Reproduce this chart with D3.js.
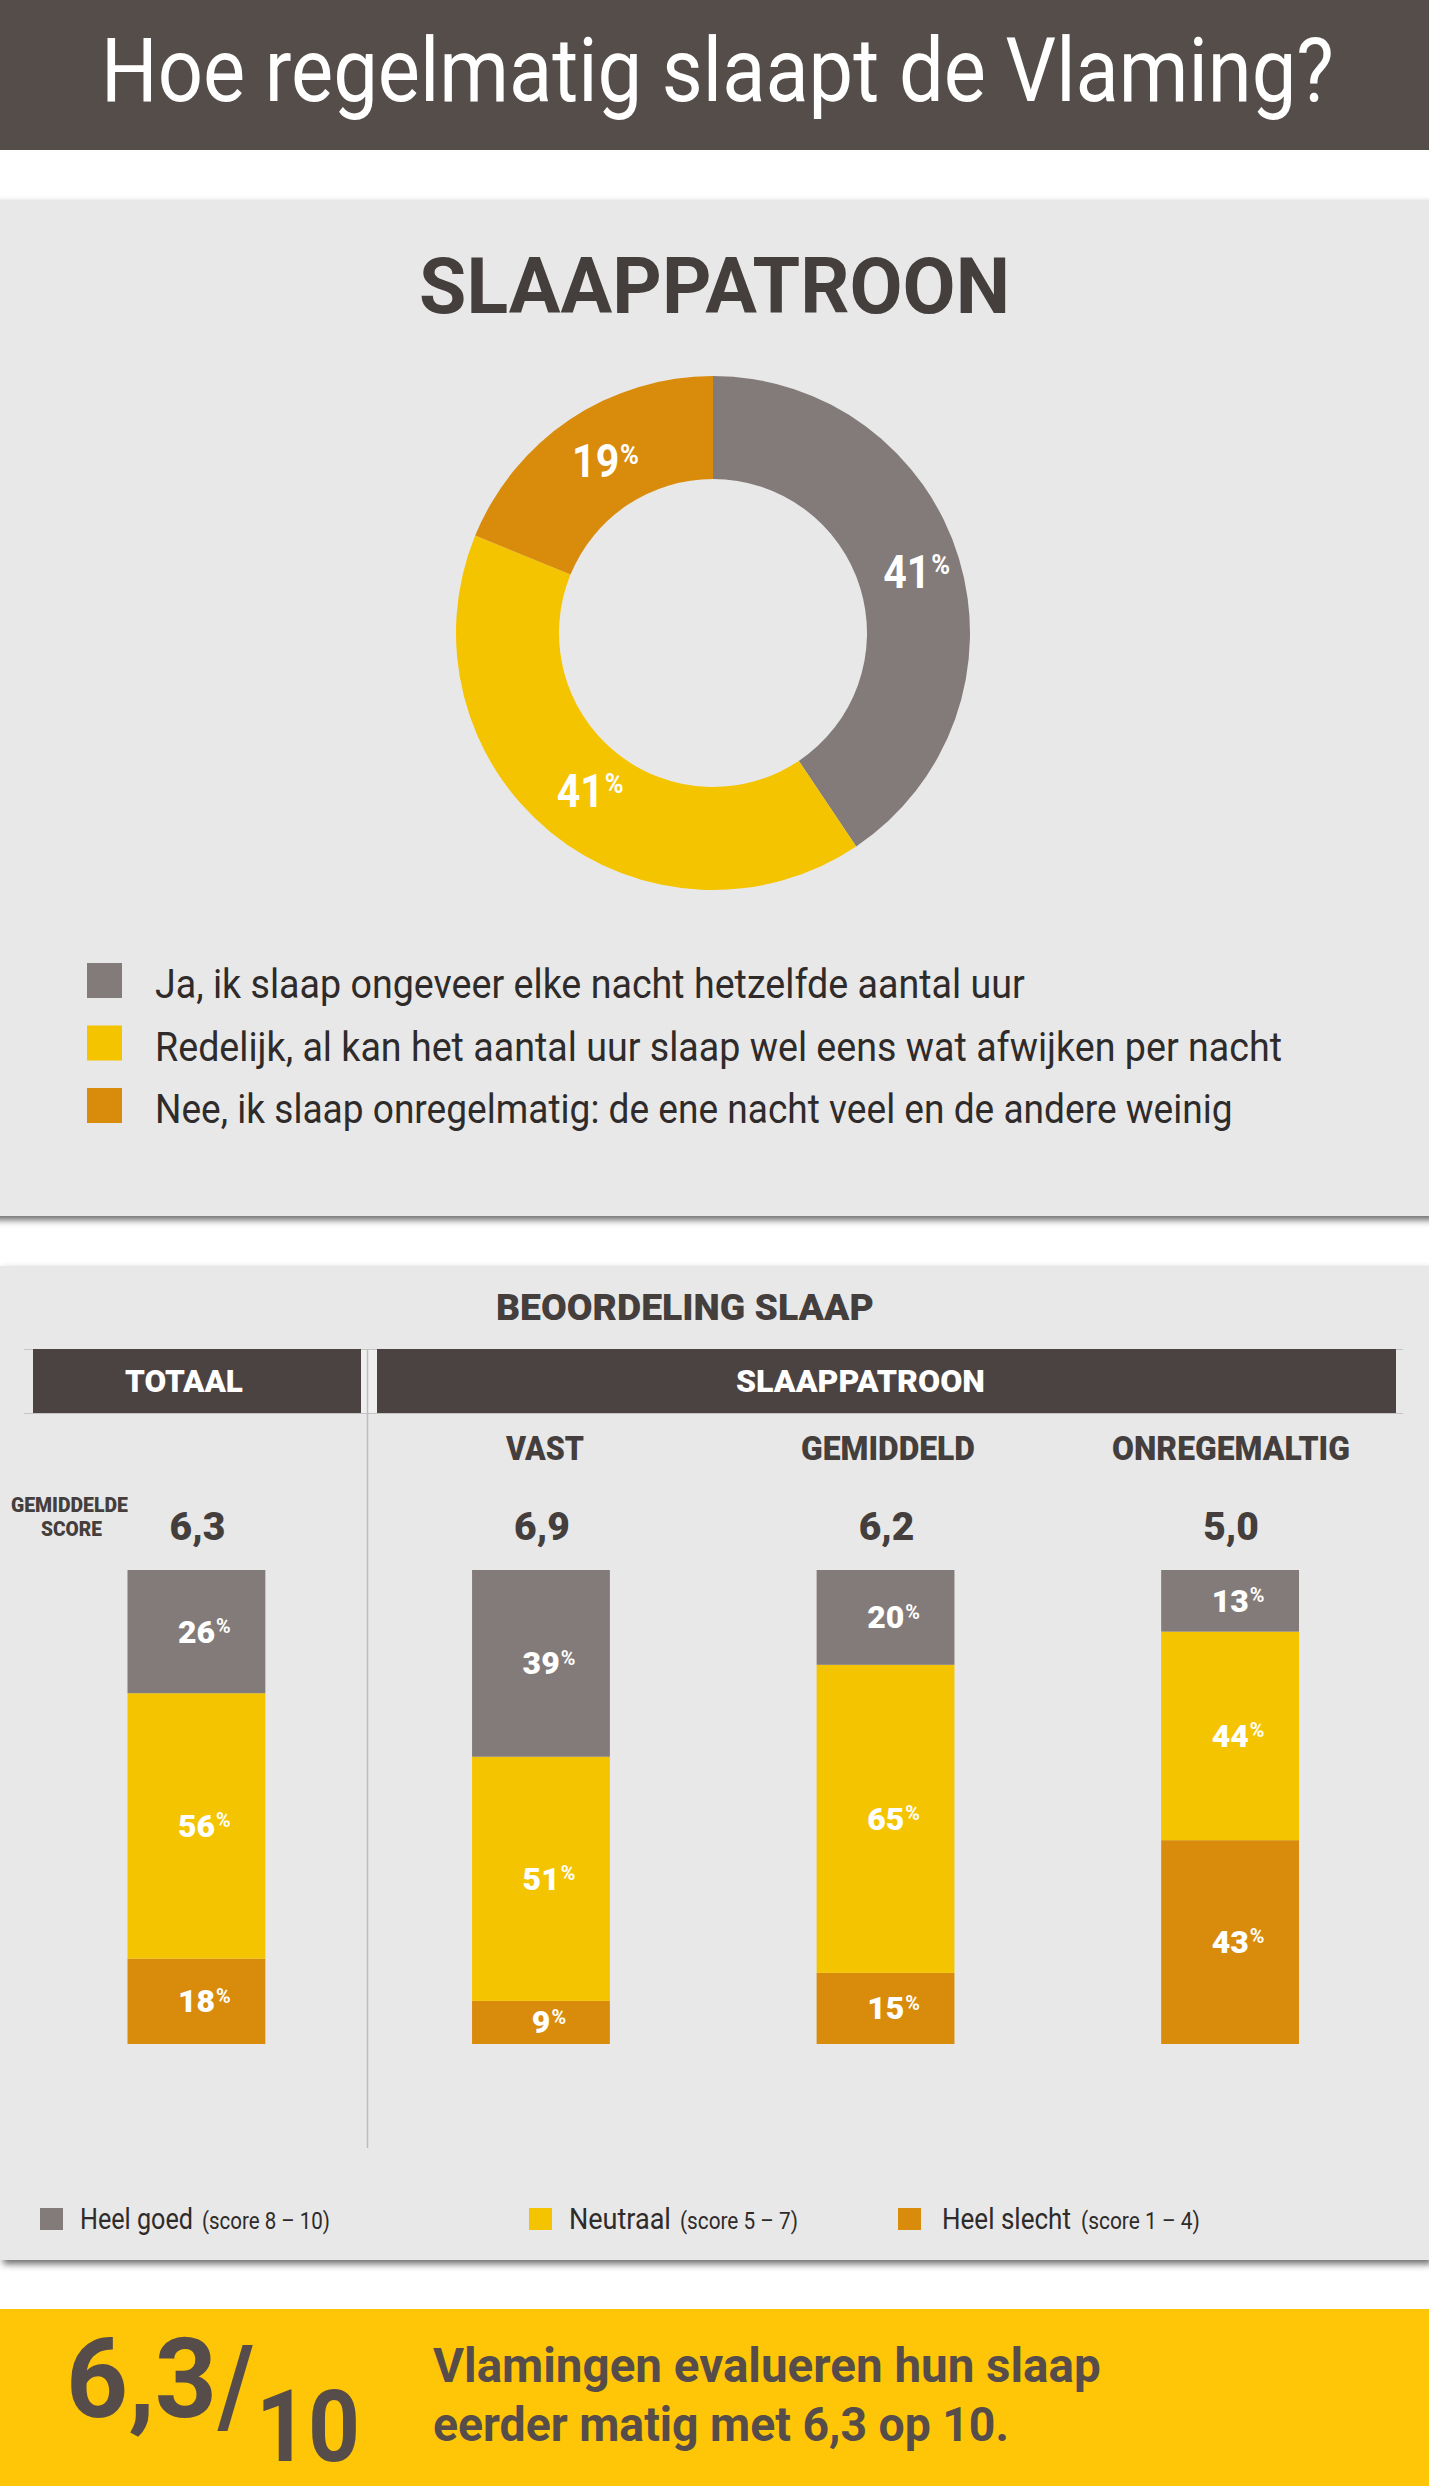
<!DOCTYPE html>
<html>
<head>
<meta charset="utf-8">
<title>Hoe regelmatig slaapt de Vlaming?</title>
<script src="https://cdn.jsdelivr.net/npm/d3@7"></script>
<style>
    html, body { margin: 0; padding: 0; background: #fff; }
    svg { display: block; }
    text { font-family: Roboto, "Open Sans", sans-serif; }
</style>
</head>
<body>
<svg id="chart"></svg>
<script>
// donut
var patternLabels = [
    'Ja, ik slaap ongeveer elke nacht hetzelfde aantal uur',
    'Redelijk, al kan het aantal uur slaap wel eens wat afwijken per nacht',
    'Nee, ik slaap onregelmatig: de ene nacht veel en de andere weinig'
];
var patternValues = [41, 41, 19];

// stacked bars
var groups = ['TOTAAL', 'VAST', 'GEMIDDELD', 'ONREGEMALTIG'];
var scores = ['6,3', '6,9', '6,2', '5,0'];
var heelGoed = [26, 39, 20, 13];
var neutraal = [56, 51, 65, 44];
var heelSlecht = [18, 9, 15, 43];

var scoreKeys = ['heelSlecht', 'neutraal', 'heelGoed'];

var GREY = '#837b79', YELLOW = '#f5c400', ORANGE = '#d98b0b';
var DARK = '#443e3d';

var svg = d3.select('#chart').attr('width', 1429).attr('height', 2486);

var defs = svg.append('defs');
defs.append('filter')
    .attr('id', 'panelShadow')
    .attr('x', '-2%').attr('y', '-2%').attr('width', '104%').attr('height', '104%')
    .append('feDropShadow')
    .attr('dx', 3).attr('dy', 4).attr('stdDeviation', 3.5)
    .attr('flood-color', '#444').attr('flood-opacity', 0.8);

// squeeze text to the width it has in the picture (the original face is condensed)
function squeeze(t, x, y, width) {
    var sx = width ? width / t.node().getComputedTextLength() : 1;
    t.attr('transform', 'translate(' + x + ',' + y + ') scale(' + sx + ',1)');
}

function addText(parent, str, x, y, size, weight, color, width) {
    var t = parent.append('text')
        .attr('font-size', size)
        .attr('font-weight', weight)
        .attr('fill', color)
        .text(str);
    squeeze(t, x, y, width);
    return t;
}

function addPercent(parent, value, x, y, size, weight, width) {
    var t = parent.append('text')
        .attr('text-anchor', 'middle')
        .attr('font-size', size)
        .attr('font-weight', weight)
        .attr('fill', '#fff');
    t.append('tspan').text(value);
    t.append('tspan')
        .attr('font-size', size * 0.62)
        .attr('font-weight', 700)
        .attr('dy', -size * 0.3)
        .attr('dx', 1)
        .text('%');
    squeeze(t, x, y, width);
}

function drawBackground() {
    svg.append('rect').attr('width', 1429).attr('height', 150).attr('fill', '#554d4a');

    svg.append('rect').attr('x', -10).attr('y', 200).attr('width', 1449).attr('height', 1016)
        .attr('fill', '#e8e8e8').attr('filter', 'url(#panelShadow)');
    svg.append('rect').attr('x', 0).attr('y', 1266).attr('width', 1429).attr('height', 994)
        .attr('fill', '#e8e8e8').attr('filter', 'url(#panelShadow)');

    svg.append('rect').attr('y', 2309).attr('width', 1429).attr('height', 177).attr('fill', '#ffc507');

    addText(svg, 'Hoe regelmatig slaapt de Vlaming?', 101, 101, 89, 400, '#fff', 1233);
}

function drawDonut() {
    var colors = d3.scaleOrdinal().domain(patternLabels).range([GREY, YELLOW, ORANGE]);
    var g = svg.append('g').attr('transform', 'translate(713,633)');

    var pie = d3.pie().sort(null).value(function (d) { return d.value; });
    var arc = d3.arc().innerRadius(154).outerRadius(257);
    var rows = patternLabels.map(function (label, i) {
        return {label: label, value: patternValues[i]};
    });

    addText(svg, 'SLAAPPATROON', 419, 313, 78, 700, DARK, 591);

    g.selectAll('path')
        .data(pie(rows))
        .enter()
        .append('path')
        .attr('d', arc)
        .attr('fill', function (d) { return colors(d.data.label); });

    pie(rows).forEach(function (d) {
        var c = arc.centroid(d);
        addPercent(g, d.data.value, c[0] + 7, c[1] + 15, 46, 700, 66);
    });

    // legend
    var legendY = d3.scalePoint().domain(patternLabels).range([998, 1123]);
    var legendWidths = [870, 1127, 1078];
    patternLabels.forEach(function (label, i) {
        svg.append('rect')
            .attr('x', 87).attr('y', legendY(label) - 35)
            .attr('width', 35).attr('height', 35)
            .attr('fill', colors(label));
        addText(svg, label, 155, legendY(label), 41, 400, '#2f2b2a', legendWidths[i]);
    });
}

function drawBars() {
    var rows = groups.map(function (group, i) {
        return {
            group: group,
            score: scores[i],
            heelGoed: heelGoed[i],
            neutraal: neutraal[i],
            heelSlecht: heelSlecht[i]
        };
    });

    var x = d3.scaleBand().domain(groups).range([127.5, 1299]).paddingInner(0.6);
    var y = d3.scaleLinear().domain([0, 1]).range([2044, 1570]);
    var colors = d3.scaleOrdinal().domain(scoreKeys).range([ORANGE, YELLOW, GREY]);

    var series = d3.stack().keys(scoreKeys).offset(d3.stackOffsetExpand)(rows);

    addText(svg, 'BEOORDELING SLAAP', 496, 1320, 37, 900, DARK, 378);

    // header strips and rules
    svg.append('g').selectAll('line')
        .data([1349.5, 1413.5])
        .enter()
        .append('line')
        .attr('x1', 24).attr('x2', 1403)
        .attr('y1', function (d) { return d; })
        .attr('y2', function (d) { return d; })
        .attr('stroke', '#c4c4c4');
    svg.append('rect').attr('x', 361).attr('y', 1350).attr('width', 16).attr('height', 63).attr('fill', '#efefef');
    svg.append('line')
        .attr('x1', 367.5).attr('x2', 367.5).attr('y1', 1349).attr('y2', 2148)
        .attr('stroke', '#bdbdbd').attr('stroke-width', 1.5);
    svg.append('rect').attr('x', 33).attr('y', 1349).attr('width', 328).attr('height', 64).attr('fill', '#4b4341');
    svg.append('rect').attr('x', 377).attr('y', 1349).attr('width', 1019).attr('height', 64).attr('fill', '#4b4341');

    addText(svg, 'TOTAAL', 125, 1392, 32, 900, '#fff', 118);
    addText(svg, 'SLAAPPATROON', 736, 1392, 32, 900, '#fff', 249);

    addText(svg, 'VAST', 506, 1460, 34, 900, DARK, 78);
    addText(svg, 'GEMIDDELD', 801, 1460, 34, 900, DARK, 174);
    addText(svg, 'ONREGEMALTIG', 1112, 1460, 34, 900, DARK, 238);

    addText(svg, 'GEMIDDELDE', 11, 1512, 21, 900, DARK, 117);
    addText(svg, 'SCORE', 41, 1536, 21, 900, DARK, 61);

    var bars = svg.append('g').attr('class', 'bars');
    series.forEach(function (s) {
        bars.append('g')
            .attr('fill', colors(s.key))
            .selectAll('rect')
            .data(s)
            .enter()
            .append('rect')
            .attr('x', function (d) { return x(d.data.group); })
            .attr('y', function (d) { return y(d[1]); })
            .attr('width', x.bandwidth())
            .attr('height', function (d) { return y(d[0]) - y(d[1]); });
    });

    series.forEach(function (s) {
        s.forEach(function (d) {
            var cx = x(d.data.group) + x.bandwidth() / 2;
            addPercent(svg, d.data[s.key], cx + 8, (y(d[0]) + y(d[1])) / 2 + 11, 32, 900);
        });
    });

    rows.forEach(function (d) {
        addText(svg, d.score, x(d.group) + x.bandwidth() / 2 + 1, 1540, 39, 900, DARK)
            .attr('text-anchor', 'middle');
    });

    // legend
    var legend = [
        {key: 'heelGoed', name: 'Heel goed', range: '(score 8 – 10)', sq: 40, tx: 80, tw: 113, rx: 202, rw: 128},
        {key: 'neutraal', name: 'Neutraal', range: '(score 5 – 7)', sq: 529, tx: 569, tw: 102, rx: 680, rw: 118},
        {key: 'heelSlecht', name: 'Heel slecht', range: '(score 1 – 4)', sq: 898, tx: 942, tw: 129, rx: 1081, rw: 119}
    ];
    legend.forEach(function (l) {
        svg.append('rect')
            .attr('x', l.sq).attr('y', 2208)
            .attr('width', 23).attr('height', 22)
            .attr('fill', colors(l.key));
        addText(svg, l.name, l.tx, 2229, 29, 400, '#2f2b2a', l.tw);
        addText(svg, l.range, l.rx, 2229, 24, 400, '#2f2b2a', l.rw);
    });
}

function drawFooter() {
    var INK = '#564d4a';
    addText(svg, '6,3', 66, 2417, 112, 700, INK, 151);
    addText(svg, '/', 218, 2424, 112, 700, INK, 36);
    addText(svg, '10', 256, 2461, 100, 700, INK, 104);
    addText(svg, 'Vlamingen evalueren hun slaap', 433, 2382, 48, 700, INK, 668);
    addText(svg, 'eerder matig met 6,3 op 10.', 433, 2441, 48, 700, INK, 576);
}

drawBackground();
drawDonut();
drawBars();
drawFooter();
</script>
</body>
</html>
